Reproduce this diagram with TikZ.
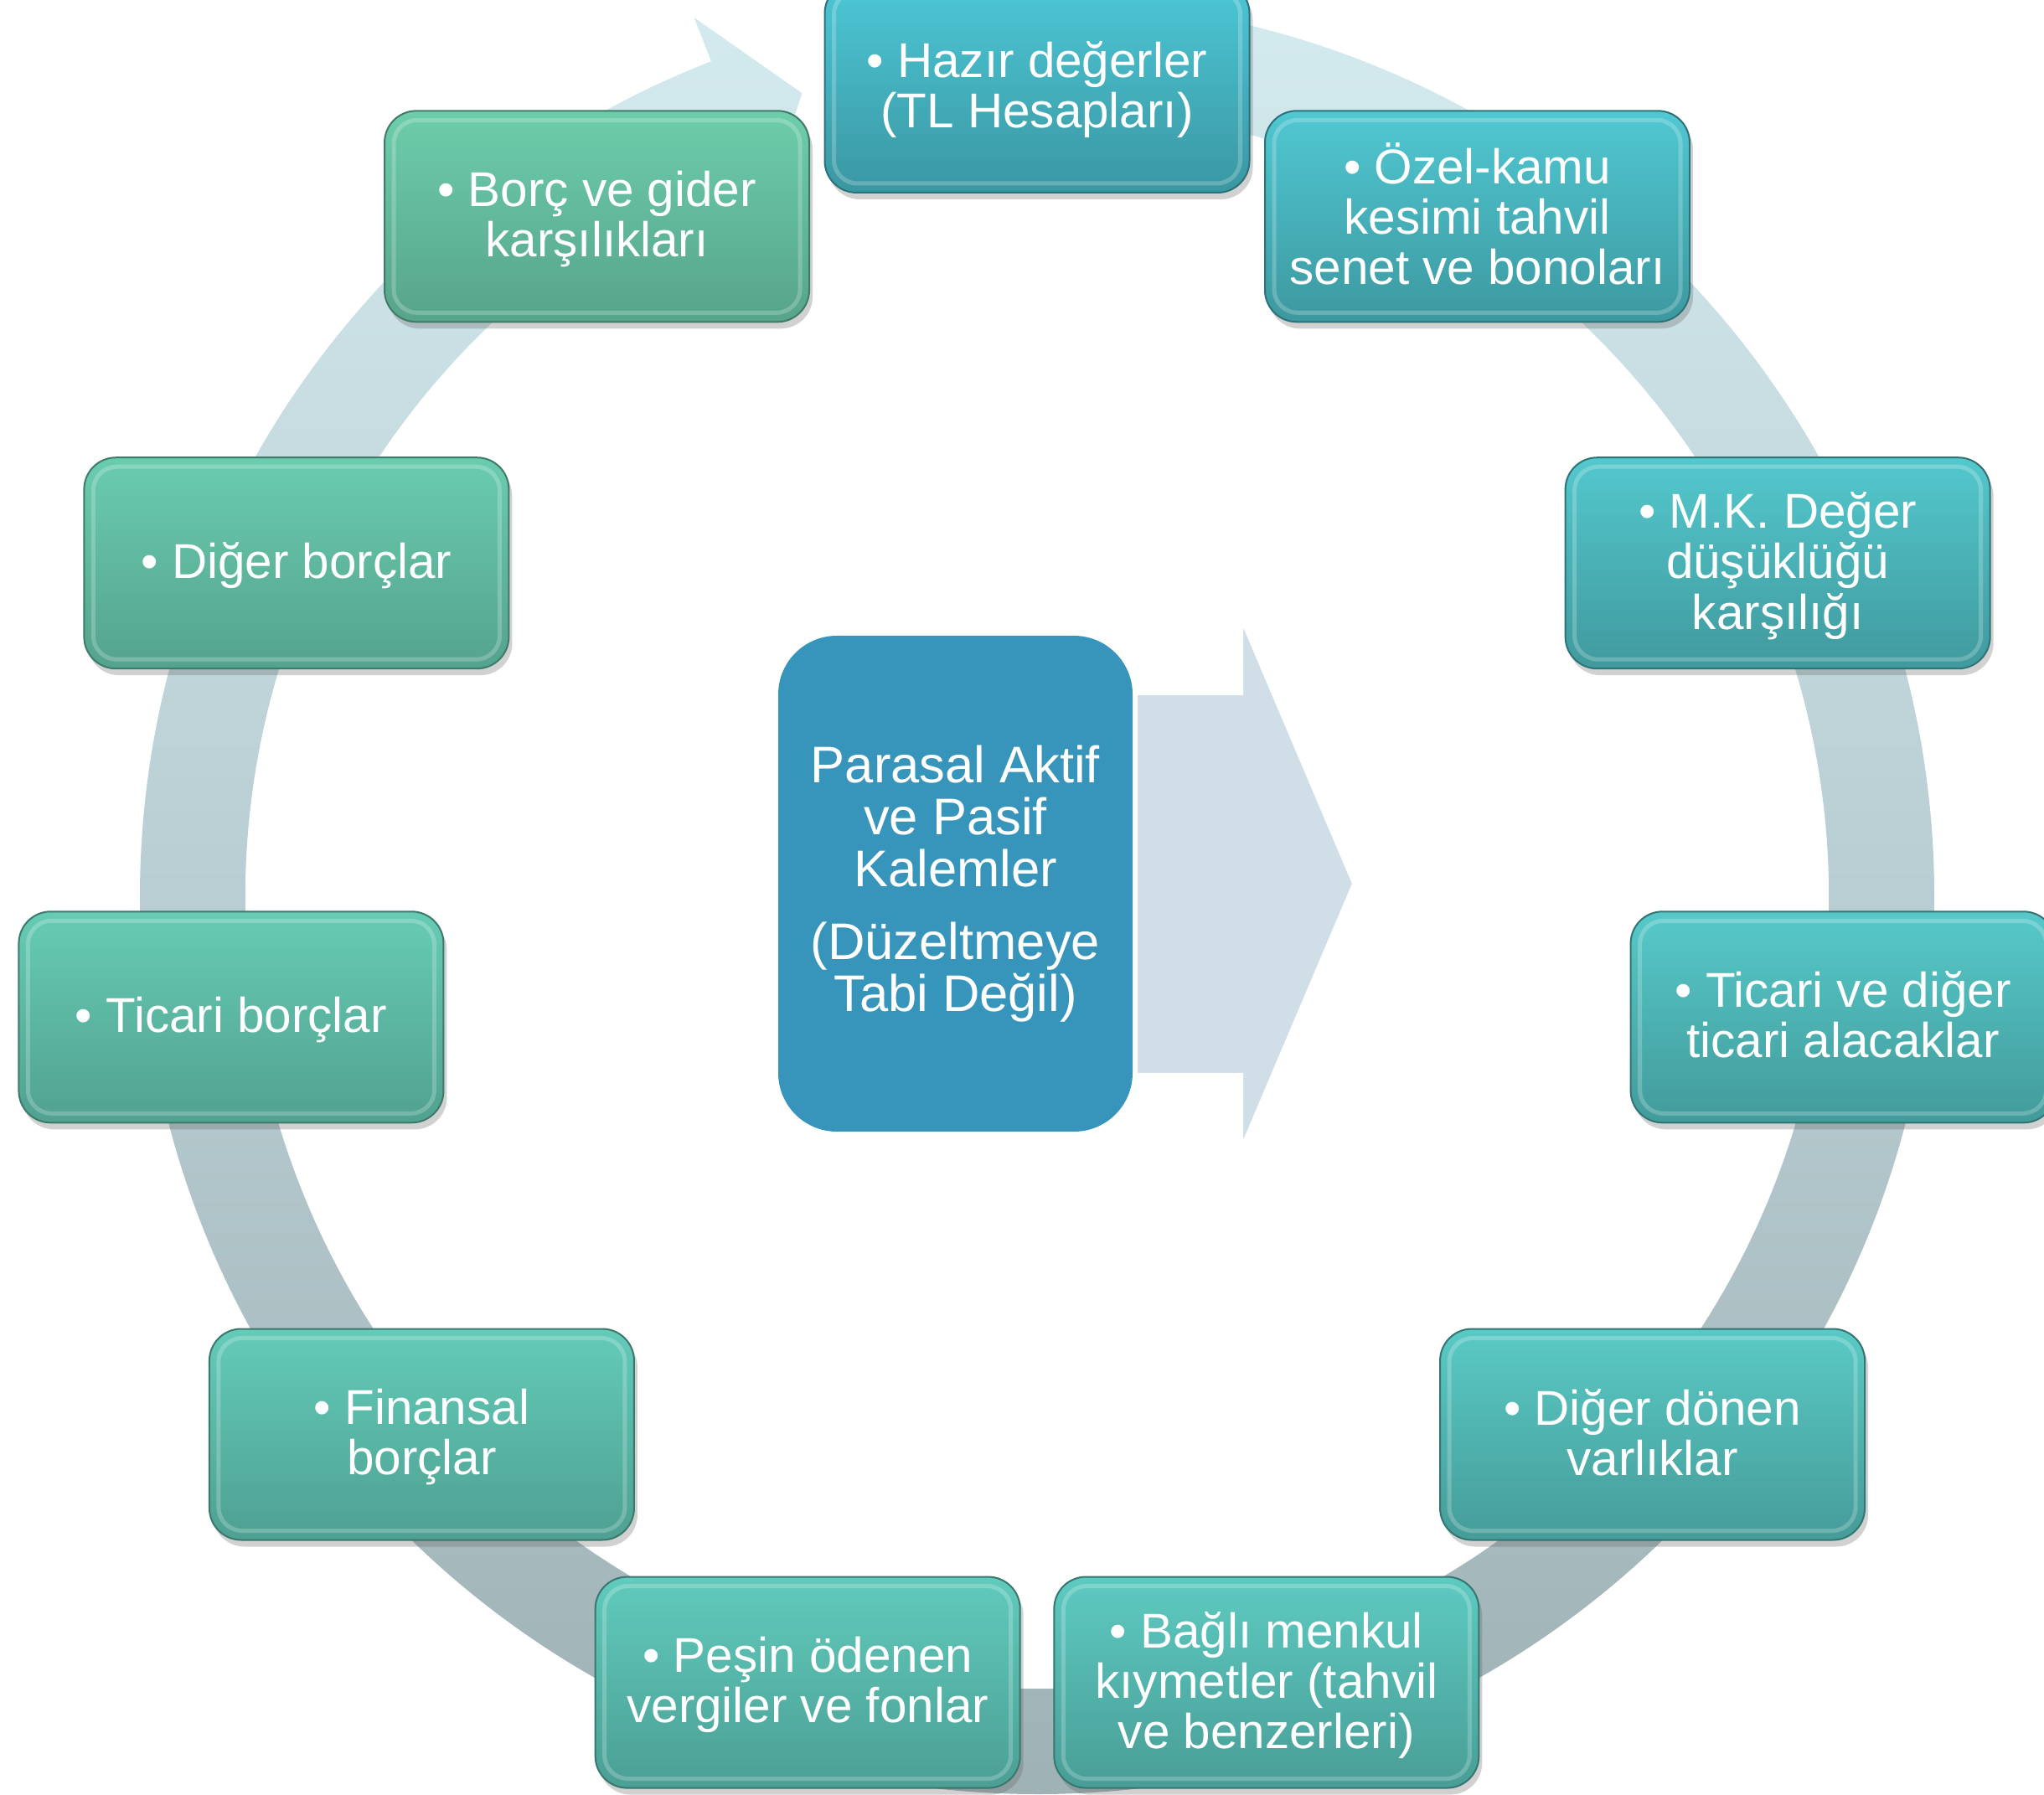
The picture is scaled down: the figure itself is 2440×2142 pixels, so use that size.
\documentclass[tikz,border=0pt]{standalone}
\usepackage{fontspec}
\setmainfont{Liberation Sans}
\usetikzlibrary{calc,shadows}

\definecolor{cTop}{HTML}{4DC7D6}
\definecolor{cBot}{HTML}{3A97A2}
\definecolor{gTop}{HTML}{6DCDAB}
\definecolor{gBot}{HTML}{57A48B}
\definecolor{ringTop}{HTML}{D3EAEF}
\definecolor{ringMid}{HTML}{C3DCE1}
\definecolor{ringBot}{HTML}{9EB1B5}
\definecolor{centerBlue}{HTML}{3794BB}
\definecolor{arrowFill}{HTML}{D0DEE8}

\tikzset{
  itembox/.style={rounded corners=19pt, minimum width=253.5pt, minimum height=126pt,
    inner sep=0pt, align=center, text=white, line width=1pt,
    font=\fontsize{29.2pt}{29.5pt}\selectfont},
  boxshadow/.style={drop shadow={shadow xshift=2pt, shadow yshift=-4pt, opacity=0.3, fill=black!60}},
  rim/.style={draw=white, draw opacity=0.22, line width=2.5pt, rounded corners=14pt},
  centerbox/.style={rounded corners=35pt, minimum width=211.5pt, minimum height=296pt,
    inner sep=0pt, align=center, text=white, fill=centerBlue,
    font=\fontsize{30.75pt}{31pt}\selectfont},
  bigarrow/.style={fill=arrowFill, draw=white, line width=1pt}
}

\begin{document}
\begin{tikzpicture}[x=0.5pt,y=0.5pt]
\useasboundingbox (0,0) rectangle (2440,2142);
\coordinate (C) at (1238,1071);
\coordinate (B) at (1238,1066);

% circular ring arrow
\begin{scope}[shift={(1238,1071)}]
\shade[top color=ringTop, middle color=ringMid, bottom color=ringBot]
  (88:1071) arc[start angle=88, end angle=-248.7, radius=1071]
  -- (111.3:1127) -- (106.3:1000) -- (111.3:889) -- (111.3:945)
  arc[start angle=111.3, end angle=448, radius=945] -- cycle;
\end{scope}

% center box and big arrow
\node[centerbox] (ctr) at (1140.5,1087)
  {Parasal Aktif\\ve Pasif\\Kalemler\\[12.5pt](Düzeltmeye\\Tabi Değil)};
\path[bigarrow] (1357,1313) -- (1483,1313) -- (1483,1398) -- (1615,1087)
  -- (1483,776) -- (1483,860) -- (1357,860) -- cycle;

% boxes around the ring
\foreach \i/\txt in {
  0/{• Hazır değerler\\(TL Hesapları)},
  1/{• Özel-kamu\\kesimi tahvil\\senet ve bonoları},
  2/{• M.K. Değer\\düşüklüğü\\karşılığı},
  3/{• Ticari ve diğer\\ticari alacaklar},
  4/{• Diğer dönen\\varlıklar},
  5/{• Bağlı menkul\\kıymetler (tahvil\\ve benzerleri)},
  6/{• Peşin ödenen\\vergiler ve fonlar},
  7/{• Finansal\\borçlar},
  8/{• Ticari borçlar},
  9/{• Diğer borçlar},
  10/{• Borç ve gider\\karşılıkları}} {
  \pgfmathsetmacro\ang{90-32.7273*\i}
  \pgfmathtruncatemacro\pct{10*\i}
  \colorlet{bt}{gTop!\pct!cTop}
  \colorlet{bb}{gBot!\pct!cBot}
  \colorlet{bd}{bb!75!black}
  \node[itembox, boxshadow, top color=bt, bottom color=bb, draw=bd] (b\i)
    at ($(B)+(\ang:972)$)
    {\raisebox{-3pt}[\height][\depth]{\begin{tabular}{@{}c@{}}\txt\end{tabular}}};
  \draw[rim] ($(b\i.north west)+(6pt,-6pt)$) rectangle ($(b\i.south east)+(-6pt,6pt)$);
}
\end{tikzpicture}
\end{document}
